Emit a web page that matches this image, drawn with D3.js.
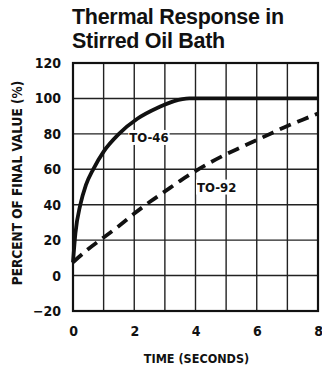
<!DOCTYPE html>
<html>
<head>
<meta charset="utf-8">
<script src="https://cdn.jsdelivr.net/npm/d3@7/dist/d3.min.js"></script>
<style>
  html, body { margin: 0; padding: 0; background: #fff; }
  svg { display: block; }
  text { fill: #111; }
</style>
</head>
<body>
<script>
// Thermal response of two package types in a stirred oil bath
const titleLines = ["Thermal Response in", "Stirred Oil Bath"];
const xTicks = [0, 2, 4, 6, 8];
const xGrid = [0, 1, 2, 3, 4, 5, 6, 7, 8];
const yTicks = [-20, 0, 20, 40, 60, 80, 100, 120];
const yTickLabels = ["\u221220", "0", "20", "40", "60", "80", "100", "120"];
const xLabel = "TIME (SECONDS)";
const yLabel = "PERCENT OF FINAL VALUE (%)";

// time (s), percent of final value
const to46Time = [0, 0.08, 0.24, 0.42, 0.66, 1, 1.5, 2.1, 2.8, 3.3, 3.8, 5, 6, 7, 8];
const to46Value = [7.5, 24, 40, 51, 60, 70, 80, 88.5, 95, 98.5, 100, 100, 100, 100, 100];
const to92Time = [0, 0.5, 1, 1.5, 2, 2.5, 3, 3.5, 4, 4.5, 5, 5.5, 6, 6.5, 7, 7.5, 8];
const to92Value = [7.5, 15, 21.5, 28, 35, 41.5, 47.5, 53.5, 59, 64, 68.5, 72.5, 76.5, 80.5, 84.5, 88, 91.5];

const W = 322, H = 368;
const svg = d3.select("body").append("svg").attr("width", W).attr("height", H);

const x = d3.scaleLinear().domain([0, 8]).range([73, 318]);
const y = d3.scaleLinear().domain([-20, 120]).range([311, 63]);

const condensed = "'Liberation Sans Narrow', 'DejaVu Sans Condensed', 'Arial Narrow', sans-serif";

// title
svg.append("g").selectAll("text").data(titleLines).join("text")
  .attr("x", 72).attr("y", (d, i) => 23.5 + i * 24.5)
  .attr("font-family", "'Liberation Sans', Arial, sans-serif")
  .attr("font-weight", "bold").attr("font-size", 21.5)
  .attr("letter-spacing", -0.3)
  .text(d => d);

// grid
const grid = svg.append("g").attr("stroke", "#222").attr("stroke-width", 1.4);
grid.selectAll("line.v").data(xGrid).join("line").attr("class", "v")
  .attr("x1", d => x(d)).attr("x2", d => x(d)).attr("y1", y(120)).attr("y2", y(-20));
grid.selectAll("line.h").data(yTicks).join("line").attr("class", "h")
  .attr("x1", x(0)).attr("x2", x(8)).attr("y1", d => y(d)).attr("y2", d => y(d));

// frame
svg.append("rect").attr("x", x(0)).attr("y", y(120))
  .attr("width", x(8) - x(0)).attr("height", y(-20) - y(120))
  .attr("fill", "none").attr("stroke", "#111").attr("stroke-width", 2.2);

// tick labels via d3 axes, without domain line or tick marks
const yAxis = svg.append("g").attr("transform", `translate(${x(0)},0)`)
  .call(d3.axisLeft(y).tickValues(yTicks).tickSize(0).tickPadding(12)
    .tickFormat((d, i) => yTickLabels[i]));
yAxis.select(".domain").remove();
yAxis.selectAll("text").attr("font-family", condensed).attr("font-weight", "bold")
  .attr("font-size", 14).attr("fill", "#111");

const xAxis = svg.append("g").attr("transform", `translate(0,${y(-20)})`)
  .call(d3.axisBottom(x).tickValues(xTicks).tickSize(0).tickPadding(15)
    .tickFormat(d3.format("d")));
xAxis.select(".domain").remove();
xAxis.selectAll("text").attr("font-family", condensed).attr("font-weight", "bold")
  .attr("font-size", 14).attr("fill", "#111");

svg.append("text").attr("x", (x(0) + x(8)) / 2 + 1).attr("y", 363)
  .attr("text-anchor", "middle").attr("font-family", condensed)
  .attr("font-weight", "bold").attr("font-size", 12.5).text(xLabel);

svg.append("text").attr("transform", `translate(22,${(y(120) + y(-20)) / 2 - 4}) rotate(-90)`)
  .attr("text-anchor", "middle").attr("font-family", condensed)
  .attr("font-weight", "bold").attr("font-size", 13.5).text(yLabel);

// curves
const line = d3.line().x(d => x(d[0])).y(d => y(d[1])).curve(d3.curveMonotoneX);
const to46 = d3.zip(to46Time, to46Value);
const to92 = d3.zip(to92Time, to92Value);

svg.append("path").datum(to92).attr("d", line)
  .attr("fill", "none").attr("stroke", "#111").attr("stroke-width", 3.8)
  .attr("stroke-dasharray", "12,7");
svg.append("path").datum(to46).attr("d", line)
  .attr("fill", "none").attr("stroke", "#111").attr("stroke-width", 3.8)
  .attr("stroke-linejoin", "round");

// series labels on white patches
const labels = [
  { text: "TO-46", t: 2.48, v: 78 },
  { text: "TO-92", t: 4.69, v: 50 }
];
const lg = svg.append("g").selectAll("g").data(labels).join("g")
  .attr("transform", d => `translate(${x(d.t)},${y(d.v)})`);
lg.append("text").attr("text-anchor", "middle").attr("dy", "0.35em")
  .attr("font-family", condensed).attr("font-weight", "bold").attr("font-size", 13)
  .text(d => d.text);
lg.each(function () {
  const g = d3.select(this);
  const b = g.select("text").node().getBBox();
  g.insert("rect", "text").attr("x", b.x - 1).attr("y", b.y)
    .attr("width", b.width + 2).attr("height", b.height).attr("fill", "#fff");
});
</script>
</body>
</html>
